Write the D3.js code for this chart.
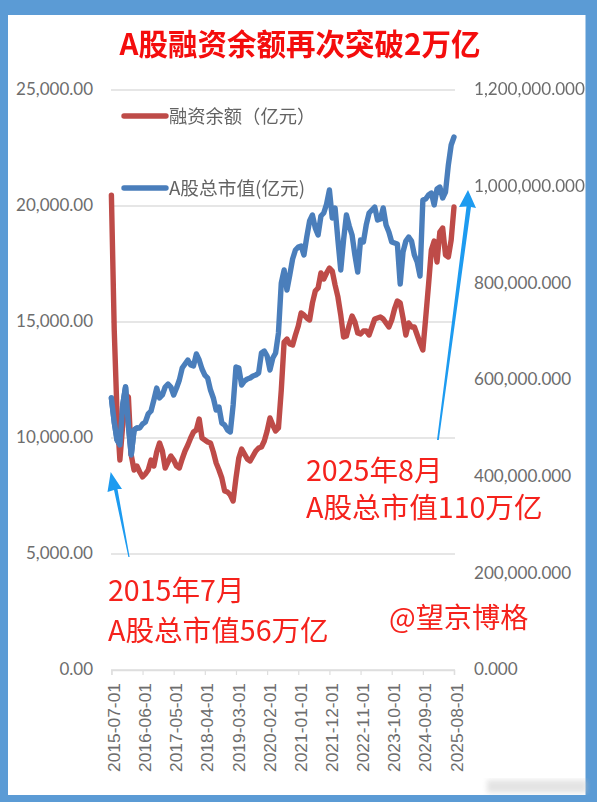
<!DOCTYPE html>
<html><head><meta charset="utf-8">
<script src="https://cdn.jsdelivr.net/npm/d3@7"></script>
<style>html,body{margin:0;padding:0;background:#5b9bd5}svg{display:block;filter:blur(.35px)}text{text-spacing-trim:space-all;font-feature-settings:"chws" 0,"halt" 0;font-kerning:none}</style>
</head><body><svg id="c" width="597" height="802"></svg>
<script>
const tickLabels=["2015-07-01","2016-06-01","2017-05-01","2018-04-01","2019-03-01","2020-02-01","2021-01-01","2021-12-01","2022-11-01","2023-10-01","2024-09-01","2025-08-01"];
const leftTicks=[0,5000,10000,15000,20000,25000];
const rightTicks=[0,200000,400000,600000,800000,1000000,1200000];
const marginBalance=[20470,14655,10991,9052,10560,11853,11767,9267,8621,8793,8534,8319,8448,8621,9052,8793,9397,9784,9440,8707,8966,9224,9052,8793,8707,9095,9440,9698,10000,10259,10345,10819,10000,9914,9828,9784,9397,8922,8621,8276,7716,7672,7543,7284,8276,9138,9526,9310,9095,9009,9224,9440,9569,9612,9871,10302,10862,10560,10302,10431,12069,14138,14267,14052,14009,14440,14828,15388,15302,15172,15086,15819,16336,16466,17112,16853,17112,17328,17198,16595,16078,15302,14353,14397,14871,15259,15000,14526,14483,14612,14612,14440,14784,15129,15172,15216,15129,14957,14784,15086,15560,15905,15819,15172,14440,14957,14784,14784,14440,14095,13793,15172,16595,18103,18491,17586,18879,19052,17888,17802,18534,19957];
const marketCap=[562760,513100,475900,465500,548300,585500,506900,444800,496600,500700,500700,509000,513100,529700,535900,558600,583400,562800,569000,585500,591700,585500,569000,583400,600000,624800,633100,641400,631000,629000,653800,641400,622800,610300,604100,579300,562800,537900,544100,511000,506900,496600,492400,548300,626900,624800,589700,597900,602100,604100,608300,610300,614500,655900,660000,649700,620700,645500,655900,697200,800700,827600,786200,817200,850300,869000,875200,877200,858600,895900,929000,941400,914500,900000,939300,945500,964100,993100,935200,955900,889700,827600,889700,941400,918600,900000,858600,823400,889700,885500,920700,945500,951700,957900,931000,933100,955900,920700,906200,885500,883400,881400,798600,864800,887600,895900,887600,858600,844100,815200,972400,974500,982800,986900,962100,995200,999300,976600,989000,1044800,1086200,1102800];
const months=d3.utcMonth.range(new Date(Date.UTC(2015,6,1)),new Date(Date.UTC(2025,8,1))).map(d3.utcFormat("%Y-%m-%d"));

const svg=d3.select("#c");
const defs=svg.append("defs");
defs.append("filter").attr("id","smudge").append("feGaussianBlur").attr("stdDeviation",2.5);
svg.append("rect").attr("x",8).attr("y",15).attr("width",577.5).attr("height",780).attr("fill","#fff");
svg.append("rect").attr("x",487).attr("y",780).attr("width",100).attr("height",13).attr("fill","#c4c4c4").attr("opacity",.45).attr("filter","url(#smudge)");

const x=d3.scalePoint().domain(months).range([111.4,454]);
const yL=d3.scaleLinear().domain([0,25000]).range([670,90]);
const yR=d3.scaleLinear().domain([0,1200000]).range([670,90]);

const axisFont="Lato, 'Open Sans', sans-serif", grey="#6d6d6d";
// grid
svg.append("g").selectAll("line").data(leftTicks).join("line")
 .attr("x1",111).attr("x2",455).attr("y1",d=>yL(d)).attr("y2",d=>yL(d))
 .attr("stroke","#dedede").attr("stroke-width",1.4);
// left axis
const gl=svg.append("g").attr("transform","translate(110,1)")
 .call(d3.axisLeft(yL).tickValues(leftTicks).tickFormat(d3.format(",.2f")).tickSize(0).tickPadding(17));
gl.select(".domain").remove();
gl.selectAll("text").attr("font-family",axisFont).attr("font-size",17).attr("fill",grey).attr("dy","0.22em");
// right axis
const gr=svg.append("g").attr("transform","translate(455,1)")
 .call(d3.axisRight(yR).tickValues(rightTicks).tickFormat(d3.format(",.3f")).tickSize(0).tickPadding(19));
gr.select(".domain").remove();
gr.selectAll("text").attr("font-family",axisFont).attr("font-size",17.1).attr("fill",grey).attr("dy","0.22em");
// bottom axis
const gb=svg.append("g").attr("transform","translate(0,670)")
 .call(d3.axisBottom(x).tickValues(tickLabels).tickSize(5));
gb.select(".domain").attr("stroke","#dedede").attr("stroke-width",1.4);
gb.selectAll("line").attr("stroke","#dedede").attr("stroke-width",1.2);
gb.selectAll("text").attr("font-family","'Liberation Sans', Arial, sans-serif").attr("font-size",17.4).attr("fill",grey)
 .attr("text-anchor","end").attr("transform","translate(2,0) rotate(-90)").attr("x",-13).attr("y",0).attr("dy","0.35em").attr("dx",0);

// series
const line=(y,v)=>d3.line().x((d,i)=>x(months[i])).y(d=>y(d)).curve(d3.curveLinear)(v);
const sw=5.4;
svg.append("path").attr("d",line(yR,marketCap)).attr("fill","none").attr("stroke","#4a7ebb").attr("stroke-width",sw).attr("stroke-linejoin","round").attr("stroke-linecap","round");
svg.append("path").attr("d",line(yL,marginBalance)).attr("fill","none").attr("stroke","#be4b48").attr("stroke-width",sw).attr("stroke-linejoin","round").attr("stroke-linecap","round");
// blue sits on top at the far left in the reference
svg.append("path").attr("d",line(yR,marketCap.slice(0,10))).attr("fill","none").attr("stroke","#4a7ebb").attr("stroke-width",sw).attr("stroke-linejoin","round").attr("stroke-linecap","round");

// legend
const cjk="'Noto Sans CJK SC', sans-serif";
[[116,"#be4b48","融资余额（亿元）",18.3],[188,"#4a7ebb","A股总市值(亿元)",18.7]].forEach(([ly,col,t,fs])=>{
 svg.append("line").attr("x1",124).attr("x2",166).attr("y1",ly).attr("y2",ly).attr("stroke",col).attr("stroke-width",sw).attr("stroke-linecap","round");
 svg.append("text").attr("x",169).attr("y",ly+6.5).attr("font-family",cjk).attr("font-size",fs).attr("fill","#636363").text(t);
});

// title
svg.append("text").attr("x",300).attr("y",55).attr("text-anchor","middle").attr("font-family",cjk).attr("font-weight",700).attr("font-size",29.5).attr("fill","#f40d0d").text("A股融资余额再次突破2万亿");

// annotations
const red="#f5221c";
[[306,481,"2025年8月",28.6],[306,518,"A股总市值110万亿",28.6],[108,601,"2015年7月",28.6],[108,641,"A股总市值56万亿",28.6],[389,628,"@望京博格",28.2]].forEach(([tx,ty,t,fs])=>{
 svg.append("text").attr("x",tx).attr("y",ty).attr("font-family",cjk).attr("font-size",fs).attr("fill",red).text(t);
});

// arrows
const arrow=pts=>svg.append("polygon").attr("points",pts.map(p=>p.join(",")).join(" ")).attr("fill","#1d9bf0");
arrow([[129.6,557],[128.4,557],[114,490],[107.5,492],[110.7,472],[122,489],[117.5,489]]);
arrow([[437,440],[438.8,440],[471,207],[476,208],[468,190],[459,207],[466.5,206.5]]);
</script></body></html>
